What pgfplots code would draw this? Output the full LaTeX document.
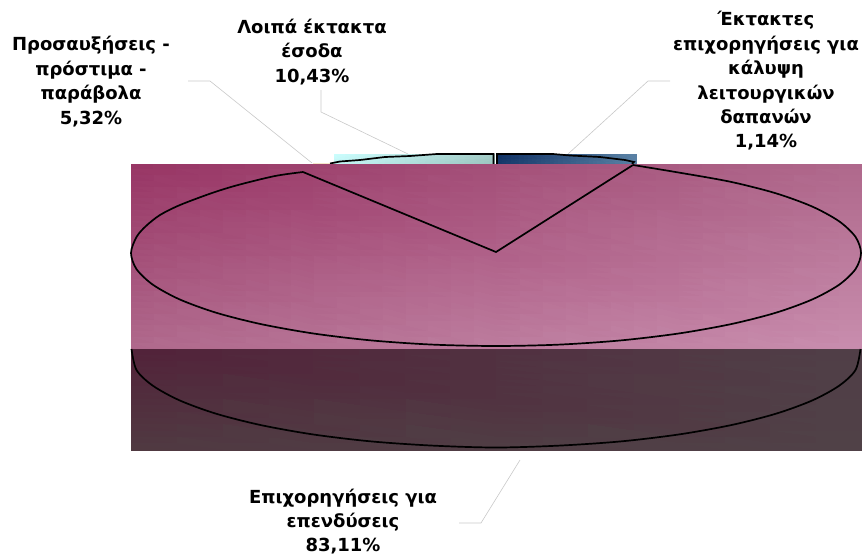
\documentclass[border=0pt]{standalone}
\usepackage{pgfplots}
\usepgfplotslibrary{patchplots}
\pgfplotsset{compat=1.18}
\usepackage{fontspec}
\setmainfont{DejaVu Sans}
\definecolor{lead}{HTML}{C8C8C8}
\definecolor{cream}{HTML}{F5E6C8}
\tikzset{lbl/.style={font=\fontsize{18}{24.4}\selectfont\bfseries,align=center,text=black,inner sep=0pt}}
\begin{document}
\begin{tikzpicture}
\begin{axis}[name=a,x=1pt,y=1pt,xmin=0,xmax=862,ymin=0,ymax=555,y dir=reverse,hide axis,scale only axis,clip=true]
% leader lines
\addplot[lead,line width=0.6pt] coordinates {(188,81)(210,81)(312,163)};
\addplot[lead,line width=0.6pt] coordinates {(321,90)(321,112)(408,154)};
\addplot[lead,line width=0.6pt] coordinates {(670,81)(648,81)(568,154)};
\addplot[lead,line width=0.6pt] coordinates {(520,460)(481,523)(459,523)};
\addplot[cream,line width=1pt] coordinates {(313,163.5)(334,163.5)};
% small slices
\addplot[patch,shader=interp,mesh/color input=explicit] coordinates {
(334,154)[color={rgb,255:red,204;green,255;blue,255}]
(494,154)[color={rgb,255:red,165;green,205;blue,200}]
(494,164)[color={rgb,255:red,155;green,196;blue,191}]
(334,154)[color={rgb,255:red,204;green,255;blue,255}]
(494,164)[color={rgb,255:red,155;green,196;blue,191}]
(334,164)[color={rgb,255:red,196;green,245;blue,245}]};
\addplot[patch,shader=interp,mesh/color input=explicit] coordinates {
(497,154)[color={rgb,255:red,14;green,47;blue,99}]
(636,154)[color={rgb,255:red,91;green,131;blue,166}]
(636,164)[color={rgb,255:red,91;green,131;blue,166}]
(497,154)[color={rgb,255:red,14;green,47;blue,99}]
(636,164)[color={rgb,255:red,91;green,131;blue,166}]
(497,164)[color={rgb,255:red,20;green,55;blue,105}]};
\addplot[black,line width=1.7pt] coordinates {(330,163.5)(340,161.5)(360,160)(385,157)(410,156)(437,154)(493.5,154)(493.5,164)};
\addplot[black,line width=1.7pt] coordinates {(497,164)(497,154)(553,154)(570,155.5)(600,157)(625,160)(634,162)(632,164)};
% top face and side
\addplot[patch,shader=interp,mesh/color input=explicit] coordinates {
(131,164)[color={rgb,255:red,152;green,54;blue,101}]
(862,164)[color={rgb,255:red,176;green,106;blue,141}]
(862,349)[color={rgb,255:red,201;green,143;blue,175}]
(131,164)[color={rgb,255:red,152;green,54;blue,101}]
(862,349)[color={rgb,255:red,201;green,143;blue,175}]
(131,349)[color={rgb,255:red,176;green,106;blue,141}]};
\addplot[patch,shader=interp,mesh/color input=explicit] coordinates {
(131,349)[color={rgb,255:red,82;green,35;blue,58}]
(862,349)[color={rgb,255:red,80;green,64;blue,72}]
(862,450)[color={rgb,255:red,80;green,67;blue,72}]
(131,349)[color={rgb,255:red,82;green,35;blue,58}]
(862,450)[color={rgb,255:red,80;green,67;blue,72}]
(131,450)[color={rgb,255:red,80;green,58;blue,66}]};
% pie outline
\addplot[black,line width=1.7pt,smooth,tension=0.5] coordinates {
(633,165)(678.5,172.5)(730.6,181.8)(775.6,193.2)(812.1,206.5)(839,221.2)(855.5,236.9)(861,253)
(855.5,269.1)(839,284.8)(812.1,299.5)(775.6,312.8)(730.6,324.2)(678.5,333.5)(620.8,340.4)(559.4,344.6)
(496,346)(432.6,344.6)(371.2,340.4)(313.5,333.5)(261.4,324.2)(216.4,312.8)(179.9,299.5)(153,284.8)
(136.5,269.1)(131,253)(136.5,237)(146,226)(160,215)(180,205)(212,193)(238,185)(275,176)(303,172)};
\addplot[black,line width=1.7pt] coordinates {(303,172)(496,252)(633,165)};
\addplot[black,line width=1.7pt,smooth,tension=0.5] coordinates {
(131.5,349)(136.5,370)(153,385.8)(179.9,400.5)(216.4,413.8)(261.4,425.2)(313.5,434.5)(371.2,441.4)(432.6,445.6)
(496,447.5)(559.4,445.6)(620.8,441.4)(678.5,434.5)(730.6,425.2)(775.6,413.8)(812.1,400.5)(839,385.8)(855.5,370)(860.5,349)};
% labels
\node[lbl] at (axis cs:91,81.5) {Προσαυξήσεις -\\πρόστιμα -\\παράβολα\\5,32\%};
\node[lbl] at (axis cs:312,52) {Λοιπά έκτακτα\\έσοδα\\10,43\%};
\node[lbl] at (axis cs:766,81) {Έκτακτες\\επιχορηγήσεις για\\κάλυψη\\λειτουργικών\\δαπανών\\1,14\%};
\node[lbl] at (axis cs:343,521.5) {Επιχορηγήσεις για\\επενδύσεις\\83,11\%};
\end{axis}
\useasboundingbox (a.south west) rectangle (a.north east);
\end{tikzpicture}
\end{document}
